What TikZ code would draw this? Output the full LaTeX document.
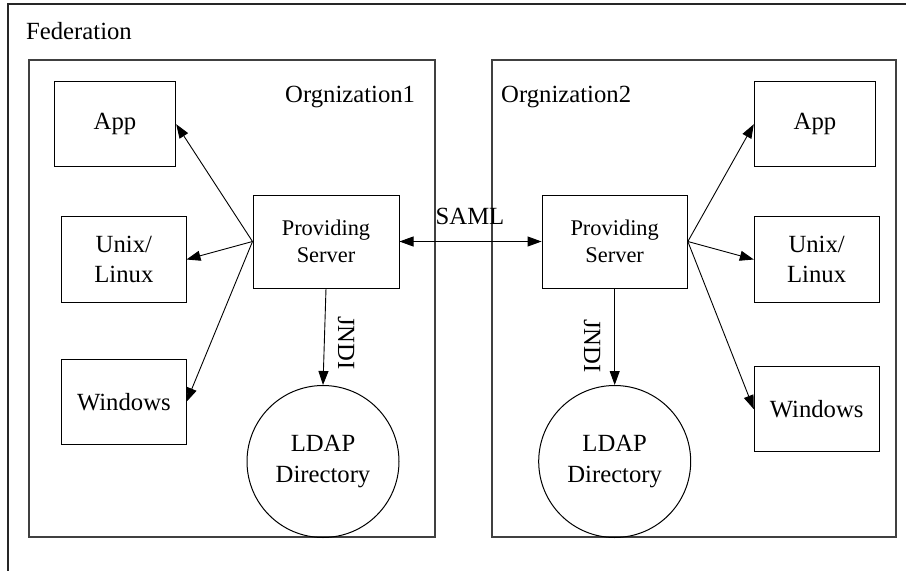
\documentclass[tikz,border=0pt]{standalone}
\usepackage{fontspec}
\setmainfont{Liberation Serif}
\usetikzlibrary{arrows.meta}
\tikzset{
  txt/.style={font=\fontsize{24.7}{30.5}\selectfont},
  boxnode/.style={draw, line width=1pt, rectangle, inner sep=0pt, align=center, txt},
  srvnode/.style={draw, line width=1pt, rectangle, inner sep=0pt, align=center, font=\fontsize{22.4}{27.4}\selectfont},
  ldapnode/.style={draw, line width=1pt, circle, inner sep=0pt, minimum size=152pt, align=center, txt},
  orgbox/.style={draw=black!75, line width=1.6pt, rectangle, inner sep=0pt},
  conn/.style={line width=0.9pt, -{Triangle[length=14pt,width=10pt]}},
  biconn/.style={line width=0.9pt, {Triangle[length=14pt,width=10pt]}-{Triangle[length=14pt,width=10pt]}},
  lbl/.style={inner sep=0pt, txt}
}
\begin{document}
\begin{tikzpicture}[x=1pt,y=-1pt]
\useasboundingbox (0,0) rectangle (906,571);
% outer federation frame (cut at right and bottom)
\coordinate (fedTR) at (906,4);
\coordinate (fedTL) at (8,4);
\coordinate (fedBL) at (8,571);
\draw[line width=1.4pt, black!85] (fedTR) -- (fedTL) -- (fedBL);
\node[lbl, anchor=base west] (fedlbl) at (26,39.5) {Federation};

% organization boxes
\node[orgbox, minimum width=406pt, minimum height=477pt] (org1) at (232,298.5) {};
\node[orgbox, minimum width=404.3pt, minimum height=477pt] (org2) at (693.85,298.5) {};
\node[lbl, anchor=base west] (org1lbl) at (285,102) {Orgnization1};
\node[lbl, anchor=base west] (org2lbl) at (501,102) {Orgnization2};

% organization 1
\node[boxnode, minimum width=121.4pt, minimum height=85pt] (app1) at (115,124.2) {App};
\node[boxnode, minimum width=124.3pt, minimum height=85.6pt] (unix1) at (123.85,259.5) {Unix/\\Linux};
\node[boxnode, minimum width=124.3pt, minimum height=85pt] (win1) at (123.85,401.8) {Windows};
\node[srvnode, minimum width=146pt, minimum height=93pt] (srv1) at (326,241.5) {Providing\\Server};
\node[ldapnode] (ldap1) at (323,461.5) {LDAP\\Directory};

% organization 2
\node[srvnode, minimum width=145.3pt, minimum height=93pt] (srv2) at (614.7,241.5) {Providing\\Server};
\node[ldapnode] (ldap2) at (614.7,461.5) {LDAP\\Directory};
\node[boxnode, minimum width=121.4pt, minimum height=85pt] (app2) at (815,124.2) {App};
\node[boxnode, minimum width=124.7pt, minimum height=85.6pt] (unix2) at (816.65,259.5) {Unix/\\Linux};
\node[boxnode, minimum width=124.7pt, minimum height=85pt] (win2) at (816.65,409.2) {Windows};

% connectors
\draw[conn] (srv1.west) -- (app1.east);
\draw[conn] (srv1.west) -- (unix1.east);
\draw[conn] (srv1.west) -- (win1.east);
\draw[conn] (srv1.south) -- (ldap1.north);
\draw[conn] (srv2.east) -- (app2.west);
\draw[conn] (srv2.east) -- (unix2.west);
\draw[conn] (srv2.east) -- (win2.west);
\draw[conn] (srv2.south) -- (ldap2.north);
\draw[biconn] (srv1.east) -- (srv2.west);

% labels
\node[lbl, anchor=base] (saml) at (470,224.3) {SAML};
\node[lbl, rotate=-90] (jndi1) at (346,343) {JNDI};
\node[lbl, rotate=-90] (jndi2) at (592,346) {JNDI};
\end{tikzpicture}
\end{document}
